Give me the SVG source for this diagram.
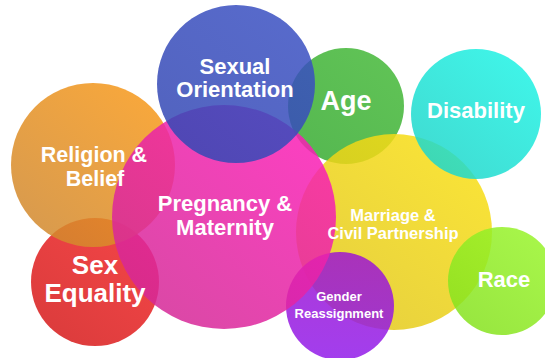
<svg xmlns="http://www.w3.org/2000/svg" width="545" height="358" viewBox="0 0 545 358">
<defs>
<style>
.bub{fill-opacity:0.85}
.lbl{fill:#fff;font-family:"Liberation Sans",Arial,sans-serif;font-weight:bold;text-anchor:middle}
</style>
<linearGradient id="gRed" x1="0.85" y1="0.1" x2="0.15" y2="0.9"><stop offset="0" stop-color="#F02426"/><stop offset="1" stop-color="#D61A1A"/></linearGradient>
<linearGradient id="gOrange" x1="0.85" y1="0.1" x2="0.15" y2="0.9"><stop offset="0" stop-color="#F6981A"/><stop offset="1" stop-color="#D2892E"/></linearGradient>
<linearGradient id="gGreen" x1="0.85" y1="0.1" x2="0.15" y2="0.9"><stop offset="0" stop-color="#44B838"/><stop offset="1" stop-color="#38AC32"/></linearGradient>
<linearGradient id="gYellow" x1="0.85" y1="0.1" x2="0.15" y2="0.9"><stop offset="0" stop-color="#F8DE14"/><stop offset="1" stop-color="#E2C81C"/></linearGradient>
<linearGradient id="gPurple" x1="0.5" y1="0" x2="0.5" y2="1"><stop offset="0" stop-color="#9E16D0"/><stop offset="1" stop-color="#921CEA"/></linearGradient>
<linearGradient id="gMagenta" x1="0.85" y1="0.1" x2="0.15" y2="0.9"><stop offset="0" stop-color="#FB1EB6"/><stop offset="1" stop-color="#D42896"/></linearGradient>
<linearGradient id="gBlue" x1="0.85" y1="0.1" x2="0.15" y2="0.9"><stop offset="0" stop-color="#3A50C2"/><stop offset="1" stop-color="#3448B4"/></linearGradient>
<linearGradient id="gCyan" x1="0.85" y1="0.1" x2="0.15" y2="0.9"><stop offset="0" stop-color="#1EF2E4"/><stop offset="1" stop-color="#1ED6CA"/></linearGradient>
<linearGradient id="gLime" x1="0.85" y1="0.1" x2="0.15" y2="0.9"><stop offset="0" stop-color="#98F42A"/><stop offset="1" stop-color="#86E21E"/></linearGradient>
</defs>
<rect width="545" height="358" fill="#fff"/>
<g id="bubbles">
<g id="node-sex-equality"><circle class="bub" cx="95" cy="282" r="64" fill="url(#gRed)"/></g>
<g id="node-religion-belief"><circle class="bub" cx="93" cy="165" r="82" fill="url(#gOrange)"/></g>
<g id="node-age"><circle class="bub" cx="346" cy="106" r="58" fill="url(#gGreen)"/></g>
<g id="node-marriage"><circle class="bub" cx="394" cy="232" r="98" fill="url(#gYellow)"/></g>
<g id="node-gender-reassignment"><circle class="bub" cx="340" cy="306" r="54" fill="url(#gPurple)"/></g>
<g id="node-pregnancy-maternity"><circle class="bub" cx="224" cy="217" r="112" fill="url(#gMagenta)"/></g>
<g id="node-sexual-orientation"><circle class="bub" cx="236" cy="84" r="79" fill="url(#gBlue)" fill-opacity="0.9"/></g>
<g id="node-disability"><circle class="bub" cx="476" cy="114" r="65" fill="url(#gCyan)"/></g>
<g id="node-race"><circle class="bub" cx="502" cy="281" r="54" fill="url(#gLime)"/></g>
</g>
<g id="connectors"/>
<g id="labels">
<text id="label-sexual-orientation" class="lbl" font-size="22"><tspan x="235" y="74">Sexual</tspan><tspan x="235" y="97">Orientation</tspan></text>
<text id="label-age" class="lbl" font-size="27" x="346" y="110">Age</text>
<text id="label-disability" class="lbl" font-size="22" x="476" y="118">Disability</text>
<text id="label-religion-belief" class="lbl" font-size="21.5"><tspan x="94" y="162">Religion &amp;</tspan><tspan x="95" y="186">Belief</tspan></text>
<text id="label-pregnancy-maternity" class="lbl" font-size="22"><tspan x="225" y="211">Pregnancy &amp;</tspan><tspan x="225" y="235">Maternity</tspan></text>
<text id="label-sex-equality" class="lbl" font-size="26"><tspan x="95" y="274">Sex</tspan><tspan x="95" y="302">Equality</tspan></text>
<text id="label-marriage" class="lbl" font-size="16.5"><tspan x="393" y="221">Marriage &amp;</tspan><tspan x="393" y="239">Civil Partnership</tspan></text>
<text id="label-gender-reassignment" class="lbl" font-size="13"><tspan x="339" y="301">Gender</tspan><tspan x="339" y="318">Reassignment</tspan></text>
<text id="label-race" class="lbl" font-size="22" x="504" y="287">Race</text>
</g>
</svg>
